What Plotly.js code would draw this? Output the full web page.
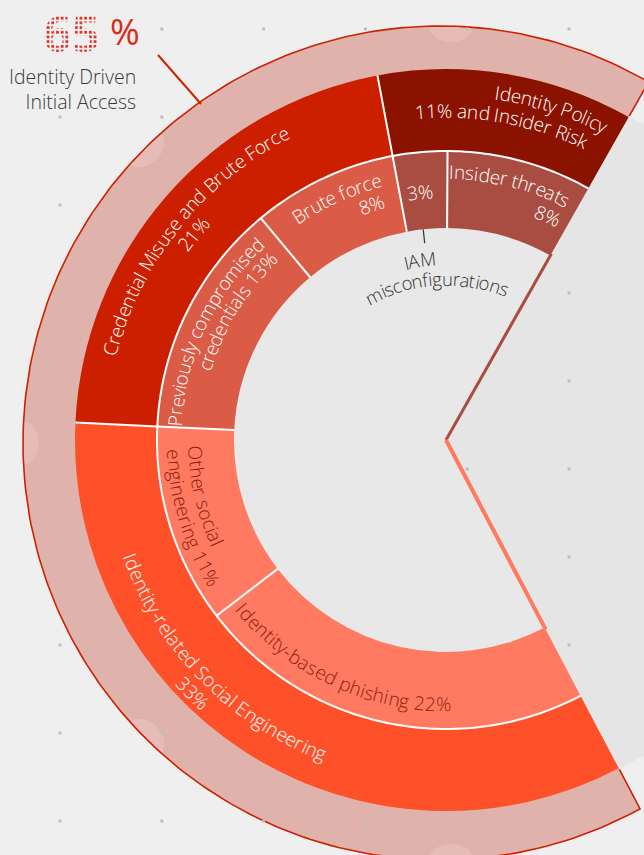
<!DOCTYPE html>
<html>
<head>
<meta charset="utf-8">
<script src="https://cdn.plot.ly/plotly-3.0.1.min.js"></script>
<style>
html,body{margin:0;padding:0;background:#efefef;overflow:hidden;}
#chart{width:644px;height:855px;}
</style>
</head>
<body>
<div id="chart"></div>
<script>
// ---------------- data ----------------
const totalLabel = "Identity Driven Initial Access";
const totalValue = 65;
const outerLabels = ["Identity Policy and Insider Risk", "Credential Misuse and Brute Force", "Identity-related Social Engineering"];
const outerValues = [11, 21, 33];
const innerLabels = ["Insider threats", "IAM misconfigurations", "Brute force", "Previously compromised credentials", "Other social engineering", "Identity-based phishing"];
const innerValues = [8, 3, 8, 13, 11, 22];

// ---------------- styles / geometry ----------------
const outerColors = ["#8c1200", "#cc1f00", "#ff5129"];
const innerColors = ["#a94d42", "#a94d42", "#da5b46", "#da5b46", "#ff7a61", "#ff7a61"];
const W = 644, H = 855;
const D2R = Math.PI / 180;
const C = {x: 446, y: 440};          // centre of the rings (px)
const R_MAX = 380, R_HOLE = 212, R_MID = 289, R_OUT = 371;
const THETA0 = 60.5, DEG_PER_PCT = 3.65;
const THETA1 = THETA0 + totalValue * DEG_PER_PCT;
const B = {x: 440, y: 443}, RB = 417; // bezel ring
const FONT = "Open Sans";

function px(r, a) { return [C.x + r * Math.cos(a * D2R), C.y - r * Math.sin(a * D2R)]; }
function spans(vals) {
  let acc = 0;
  return vals.map(v => {
    const s = THETA0 + acc * DEG_PER_PCT; acc += v;
    const e = THETA0 + acc * DEG_PER_PCT;
    return {start: s, end: e, mid: (s + e) / 2, width: e - s};
  });
}
const outerSp = spans(outerValues);
const innerSp = spans(innerValues);

// ---------------- polar domain from sector bbox ----------------
const sector = [THETA0 - 0.3, THETA1 + 0.3];
function sectorBBox(s) {
  const a0 = s[0], a1 = s[1];
  const ax0 = Math.cos(a0 * D2R), ax1 = Math.cos(a1 * D2R);
  const ay0 = Math.sin(a0 * D2R), ay1 = Math.sin(a1 * D2R);
  const has = d => (a0 <= d && a1 >= d) || (a0 <= d + 360 && a1 >= d + 360);
  return [has(180) ? -1 : Math.min(ax0, ax1, 0), has(270) ? -1 : Math.min(ay0, ay1, 0),
          has(0) ? 1 : Math.max(ax0, ax1, 0), has(90) ? 1 : Math.max(ay0, ay1, 0)];
}
const bb = sectorBBox(sector);
const domL = C.x + bb[0] * R_MAX, domR = C.x + bb[2] * R_MAX;
const domT = C.y - bb[3] * R_MAX, domB = C.y - bb[1] * R_MAX;

// ---------------- decorative cartesian geometry ----------------
function edgeHit(a) {
  const dx = Math.cos(a * D2R), dy = -Math.sin(a * D2R);
  const fx = C.x - B.x, fy = C.y - B.y;
  const bq = fx * dx + fy * dy, cq = fx * fx + fy * fy - RB * RB;
  const t = -bq + Math.sqrt(bq * bq - cq);
  const P = [C.x + t * dx, C.y + t * dy];
  return {P, ang: Math.atan2(-(P[1] - B.y), P[0] - B.x) / D2R};
}
const hs = edgeHit(THETA0), he = edgeHit(THETA1);
let bAng0 = hs.ang, bAng1 = he.ang; if (bAng1 < bAng0) bAng1 += 360;
const bezX = [], bezY = [];
const outX = [], outY = [];
outX.push(px(R_OUT + 1, THETA0)[0]); outY.push(px(R_OUT + 1, THETA0)[1]);
for (let a = bAng0; a <= bAng1 + 1e-6; a += (bAng1 - bAng0) / 240) {
  const x = B.x + RB * Math.cos(a * D2R), y = B.y - RB * Math.sin(a * D2R);
  bezX.push(x); bezY.push(y); outX.push(x); outY.push(y);
}
outX.push(px(R_OUT + 1, THETA1)[0]); outY.push(px(R_OUT + 1, THETA1)[1]);
for (let a = THETA1; a >= THETA0 - 1e-6; a -= (THETA1 - THETA0) / 200) {
  const p = px(335, a); bezX.push(p[0]); bezY.push(p[1]);
}
// bumps on the bezel
const bumpX = [], bumpY = [];
[88.5, 135, 180, 225, 271.5].forEach(ba => {
  const cx = B.x + RB * Math.cos(ba * D2R), cy = B.y - RB * Math.sin(ba * D2R);
  const ux = Math.cos(ba * D2R), uy = -Math.sin(ba * D2R); // outward
  const vx = -uy, vy = ux;
  for (let k = 0; k <= 30; k++) {
    const t = Math.PI * k / 30;
    const along = 22 * Math.cos(t), inward = 16 * Math.sin(t);
    bumpX.push(cx + vx * along - ux * inward); bumpY.push(cy + vy * along - uy * inward);
  }
  bumpX.push(null); bumpY.push(null);
});
// grey gap wedge
const gapX = [C.x], gapY = [C.y];
for (let a = THETA1 - 360; a <= THETA0 + 1e-6; a += (THETA0 - THETA1 + 360) / 160) {
  const p = px(R_OUT + 1, a); gapX.push(p[0]); gapY.push(p[1]);
}
// hole
const holeX = [C.x], holeY = [C.y];
for (let a = THETA0; a <= THETA1 + 1e-6; a += (THETA1 - THETA0) / 200) {
  const p = px(R_HOLE + 1, a); holeX.push(p[0]); holeY.push(p[1]);
}
// dot grid
const dotX = [], dotY = [];
for (let i = 0; i < 7; i++) for (let j = 0; j < 10; j++) {
  if (i === 0 && j === 0) continue;
  dotX.push(60 + 101.8 * i); dotY.push(29 + 88 * j);
}

const cart = [];
cart.push({type: 'scatter', x: bezX, y: bezY, mode: 'lines', fill: 'toself', fillcolor: '#dfb2ab', line: {width: 0}, hoverinfo: 'skip'});
cart.push({type: 'scatter', x: bumpX, y: bumpY, mode: 'lines', fill: 'toself', fillcolor: '#e6bcb6', line: {width: 0}, hoverinfo: 'skip'});
cart.push({type: 'scatter', x: outX, y: outY, mode: 'lines', line: {color: '#cc2200', width: 1.6}, hoverinfo: 'skip'});
cart.push({type: 'scatter', x: gapX, y: gapY, mode: 'lines', fill: 'toself', fillcolor: '#e5e5e5', line: {width: 0}, hoverinfo: 'skip'});
cart.push({type: 'scatter', x: dotX, y: dotY, mode: 'markers', marker: {symbol: 'square', size: 3, color: '#bdbdbd'}, hoverinfo: 'skip'});
cart.push({type: 'scatter', x: holeX, y: holeY, mode: 'lines', fill: 'toself', fillcolor: '#e8e8e8', line: {width: 0}, hoverinfo: 'skip'});
// gap edge lines
[[THETA0, innerColors[0], 3], [THETA1, innerColors[5], 4]].forEach(g => {
  const p = px(R_HOLE + 2, g[0]);
  cart.push({type: 'scatter', x: [C.x, p[0]], y: [C.y, p[1]], mode: 'lines', line: {color: g[1], width: g[2]}, hoverinfo: 'skip'});
});
// leader lines
cart.push({type: 'scatter', x: [158, 201], y: [55, 104], mode: 'lines', line: {color: '#cc2200', width: 2}, hoverinfo: 'skip'});
const iamA = innerSp[1].mid + 1;
const l1 = px(R_HOLE, iamA), l2 = px(R_HOLE - 14, iamA);
cart.push({type: 'scatter', x: [l1[0], l2[0]], y: [l1[1], l2[1]], mode: 'lines', line: {color: '#333333', width: 1.2}, hoverinfo: 'skip'});

// ---------------- polar rings ----------------
const polarTraces = [];
polarTraces.push({type: 'barpolar', subplot: 'polar', r: outerValues.map(() => R_OUT - R_MID), base: R_MID,
  theta: outerSp.map(s => s.mid), width: outerSp.map(s => s.width), text: outerLabels,
  marker: {color: outerColors, line: {width: 0}}, hoverinfo: 'skip'});
polarTraces.push({type: 'barpolar', subplot: 'polar', r: innerValues.map(() => R_MID - R_HOLE), base: R_HOLE,
  theta: innerSp.map(s => s.mid), width: innerSp.map(s => s.width), text: innerLabels,
  marker: {color: innerColors, line: {width: 0}}, hoverinfo: 'skip'});
// white separators
const sepR = [], sepT = [];
innerSp.slice(1).forEach(s => { sepR.push(R_HOLE, R_MID, null); sepT.push(s.start, s.start, null); });
outerSp.slice(1).forEach(s => { sepR.push(R_MID, R_OUT, null); sepT.push(s.start, s.start, null); });
for (let a = THETA0; a <= THETA1 + 1e-6; a += (THETA1 - THETA0) / 240) { sepR.push(R_MID); sepT.push(a); }
polarTraces.push({type: 'scatterpolar', subplot: 'polar', r: sepR, theta: sepT, mode: 'lines',
  line: {color: '#ffffff', width: 2}, connectgaps: false, hoverinfo: 'skip'});

// ---------------- curved labels ----------------
const ctx = document.createElement('canvas').getContext('2d');
function norm(d) { d = ((d % 360) + 360) % 360; if (d > 180) d -= 360; return d; }
function arcLine(text, r, mid, size, color, dir, weight) {
  ctx.font = `${weight} ${size}px "${FONT}"`;
  const L = ctx.measureText(text).width;
  const chars = Array.from(text);
  const out = [];
  chars.forEach((ch, i) => {
    const w = ctx.measureText(ch).width;
    const preW = ctx.measureText(chars.slice(0, i).join('')).width;
    const off = (preW + w / 2 - L / 2) / r / D2R;
    const a = dir === 'cw' ? mid - off : mid + off;
    const p = px(r, a);
    const rot = dir === 'cw' ? 90 - a : -90 - a;
    if (ch.trim()) out.push({x: p[0], y: p[1], xref: 'x', yref: 'y', text: ch, showarrow: false,
      textangle: norm(rot), xanchor: 'center', yanchor: 'middle',
      font: {family: FONT, size: size, color: color, weight: weight}});
  });
  return out;
}
const WH = '#ffffff', DK = '#8e1e0e', GR = '#333333';
const S = 19;
const labelLines = [
  ["Identity Policy", 351, 72.4, S, WH, 'cw'],
  ["11% and Insider Risk", 329, 80, S, WH, 'cw'],
  ["Credential Misuse and Brute Force", 347, 141.5, S, WH, 'cw'],
  [outerValues[1] + "%", 326, 140.8, S, WH, 'cw'],
  ["Identity-related Social Engineering", 337, 224.5, S, WH, 'ccw'],
  [outerValues[2] + "%", 358, 225, S, WH, 'ccw'],
  ["Insider threats", 268, 76, S, WH, 'cw'],
  [innerValues[0] + "%", 246, 65.6, S, WH, 'cw'],
  [innerValues[1] + "%", 249, 96, S, WH, 'cw'],
  ["Brute force", 268, 114.3, S, WH, 'cw'],
  [innerValues[2] + "%", 247, 107.5, S, WH, 'cw'],
  ["Previously compromised", 272, 155, S, WH, 'cw'],
  ["credentials " + innerValues[3] + "%", 252, 148.5, S, WH, 'cw'],
  ["Other social", 251, 193, S, DK, 'ccw'],
  ["engineering " + innerValues[4] + "%", 272, 197, S, DK, 'ccw'],
  ["Identity-based phishing " + innerValues[5] + "%", 264, 245, S, DK, 'ccw'],
  ["IAM", 182, 98.2, 18.5, GR, 'cw'],
  ["misconfigurations", 162, 93.4, 18.5, GR, 'cw']
];
let annotations = [];
labelLines.forEach(l => { annotations = annotations.concat(arcLine(l[0], l[1], l[2], l[3], l[4], l[5], 300)); });
annotations.push({x: 71, y: 33, xref: 'x', yref: 'y', text: String(totalValue), showarrow: false,
  xanchor: 'center', yanchor: 'middle', font: {family: FONT, size: 50, color: '#dd2a1a', weight: 700}});
annotations.push({x: 125, y: 31, xref: 'x', yref: 'y', text: '%', showarrow: false,
  xanchor: 'center', yanchor: 'middle', font: {family: FONT, size: 36, color: '#dd2a1a', weight: 400}});
annotations.push({x: 138, y: 89, xref: 'x', yref: 'y', text: 'Identity Driven<br>Initial Access', showarrow: false,
  xanchor: 'right', yanchor: 'middle', align: 'right', font: {family: FONT, size: 19.5, color: '#3a3a3a', weight: 300}});

const layout = {
  width: W, height: H, margin: {l: 0, r: 0, t: 0, b: 0},
  paper_bgcolor: '#efefef', plot_bgcolor: 'rgba(0,0,0,0)',
  showlegend: false, hovermode: false,
  xaxis: {range: [0, W], visible: false, fixedrange: true},
  yaxis: {range: [H, 0], visible: false, fixedrange: true},
  polar: {
    domain: {x: [domL / W, domR / W], y: [(H - domB) / H, (H - domT) / H]},
    sector: sector, bgcolor: 'rgba(0,0,0,0)',
    radialaxis: {range: [0, R_MAX], visible: false},
    angularaxis: {visible: false, rotation: 0, direction: 'counterclockwise'}
  },
  annotations: annotations
};
Plotly.newPlot('chart', cart.concat(polarTraces), layout, {displayModeBar: false, staticPlot: true}).then(gd => {
  // dot-matrix look for the big number (text stays real text)
  const ns = 'http://www.w3.org/2000/svg';
  const svg = gd.querySelector('svg.main-svg');
  let defs = svg.querySelector('defs');
  if (!defs) { defs = document.createElementNS(ns, 'defs'); svg.insertBefore(defs, svg.firstChild); }
  const pat = document.createElementNS(ns, 'pattern');
  pat.setAttribute('id', 'ledDots'); pat.setAttribute('patternUnits', 'userSpaceOnUse');
  pat.setAttribute('width', '4.7'); pat.setAttribute('height', '4.7');
  const rect = document.createElementNS(ns, 'rect');
  rect.setAttribute('x', '1'); rect.setAttribute('y', '1'); rect.setAttribute('width', '2.7'); rect.setAttribute('height', '2.7');
  rect.setAttribute('fill', '#dd2a1a');
  pat.appendChild(rect); defs.appendChild(pat);
  gd.querySelectorAll('.annotation-text').forEach(t => {
    if (t.textContent === String(totalValue)) t.style.fill = 'url(#ledDots)';
  });
});
</script>
</body>
</html>
